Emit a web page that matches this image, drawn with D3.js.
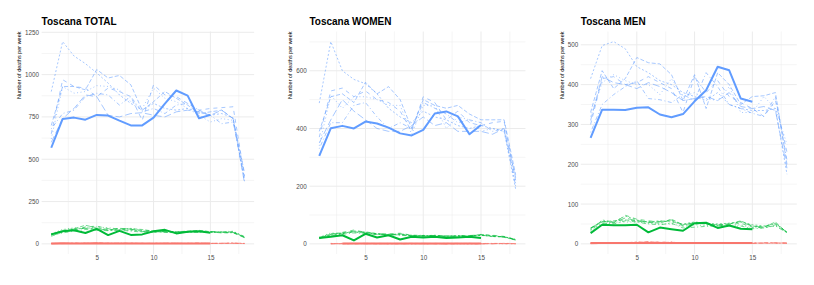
<!DOCTYPE html>
<html>
<head>
<meta charset="utf-8">
<script src="https://cdn.jsdelivr.net/npm/d3@7"></script>
<style>
  body { margin: 0; background: #fff; }
  text { font-family: "Liberation Sans", Arial, sans-serif; }
</style>
</head>
<body>
<svg id="chart" width="814" height="285"></svg>
<script>
'use strict';

// weeks of the year on the x axis
var weeks = [1, 2, 3, 4, 5, 6, 7, 8, 9, 10, 11, 12, 13, 14, 15, 16, 17, 18];
var xTicks = [5, 10, 15];

var panelTitles = ['Toscana TOTAL', 'Toscana WOMEN', 'Toscana MEN'];
var totalTicks = [0, 250, 500, 750, 1000, 1250];
var womenTicks = [0, 200, 400, 600];
var menTicks = [0, 100, 200, 300, 400, 500];

// ---- TOTAL ----
var totalBlueNow = [568, 738, 746, 734, 762, 758, 728, 700, 700, 746, 829, 906, 876, 742, 762];
var totalBluePrev = [
  [900, 1195, 1110, 1065, 1010, 950, 880, 830, 790, 830, 800, 790, 800, 780, 760, 770, 745, 370],
  [700, 930, 930, 910, 1030, 980, 995, 940, 790, 840, 900, 860, 820, 770, 780, 790, 740, 420],
  [650, 970, 930, 920, 870, 920, 900, 870, 730, 940, 880, 870, 830, 790, 800, 805, 810, 400],
  [620, 930, 890, 900, 935, 930, 910, 840, 800, 920, 860, 840, 800, 760, 720, 740, 730, 380],
  [680, 770, 790, 870, 890, 880, 820, 870, 780, 800, 770, 820, 830, 790, 760, 710, 720, 390],
  [600, 740, 800, 880, 870, 760, 750, 770, 775, 760, 750, 780, 790, 780, 760, 790, 740, 360]
];
var totalGreenNow = [56, 75, 80, 64, 89, 52, 77, 53, 56, 75, 83, 62, 72, 75, 65];
var totalGreenPrev = [
  [60, 75, 85, 95, 90, 80, 85, 80, 75, 70, 72, 70, 68, 72, 70, 68, 70, 45],
  [55, 80, 90, 110, 95, 85, 80, 90, 85, 75, 70, 72, 75, 80, 72, 70, 72, 40],
  [45, 70, 80, 100, 105, 90, 90, 85, 80, 78, 75, 72, 70, 75, 70, 65, 68, 38],
  [60, 85, 95, 90, 100, 95, 88, 92, 78, 70, 75, 68, 72, 70, 68, 72, 75, 42],
  [50, 65, 75, 85, 80, 78, 82, 75, 70, 72, 68, 65, 70, 68, 70, 66, 65, 40],
  [55, 72, 88, 92, 85, 82, 92, 88, 72, 70, 73, 68, 74, 76, 73, 70, 67, 37]
];
var totalRedNow = [3, 4, 3, 3, 4, 3, 3, 2, 3, 3, 2, 3, 3, 2, 3];
var totalRedPrev = [
  [2, 4, 3, 5, 3, 2, 4, 3, 2, 3, 4, 2, 3, 3, 2, 3, 6, 2],
  [3, 2, 4, 3, 6, 4, 3, 5, 3, 2, 3, 4, 2, 4, 3, 2, 4, 3],
  [1, 3, 2, 4, 3, 5, 2, 3, 4, 3, 2, 3, 4, 3, 2, 4, 3, 2],
  [4, 2, 3, 2, 4, 3, 6, 2, 3, 4, 3, 2, 3, 2, 4, 3, 2, 3],
  [2, 3, 5, 3, 2, 4, 3, 4, 2, 3, 3, 4, 3, 5, 3, 2, 5, 1],
  [0, 2, 3, 4, 3, 2, 4, 3, 3, 2, 4, 3, 2, 3, 3, 4, 3, 2]
];

// ---- WOMEN ----
var womenBlueNow = [305, 401, 409, 400, 424, 417, 403, 383, 376, 395, 452, 459, 442, 380, 412];
var womenBluePrev = [
  [488, 701, 600, 570, 555, 520, 470, 440, 420, 460, 440, 430, 410, 400, 410, 400, 390, 190],
  [390, 510, 520, 490, 560, 520, 545, 500, 400, 500, 480, 470, 480, 450, 430, 430, 430, 240],
  [370, 530, 540, 510, 530, 500, 490, 460, 390, 510, 490, 430, 460, 420, 410, 420, 425, 220],
  [340, 515, 470, 510, 510, 500, 480, 480, 380, 480, 480, 400, 440, 430, 390, 400, 390, 210],
  [330, 420, 420, 480, 490, 440, 400, 420, 400, 490, 470, 450, 420, 430, 420, 390, 400, 200],
  [350, 430, 500, 460, 430, 400, 390, 390, 410, 440, 410, 420, 390, 390, 390, 380, 400, 230]
];
var womenGreenNow = [20, 25, 30, 12, 35, 22, 30, 15, 25, 22, 25, 20, 22, 25, 20];
var womenGreenPrev = [
  [20, 30, 35, 45, 38, 35, 32, 35, 30, 28, 30, 25, 28, 27, 30, 25, 25, 15],
  [22, 35, 38, 40, 42, 35, 30, 32, 28, 27, 26, 28, 25, 26, 33, 28, 24, 14],
  [18, 32, 40, 48, 40, 33, 35, 37, 30, 29, 28, 27, 27, 28, 32, 30, 26, 15],
  [24, 38, 36, 42, 36, 34, 33, 31, 29, 30, 27, 26, 29, 26, 30, 27, 25, 16],
  [20, 28, 33, 38, 35, 32, 34, 30, 27, 26, 28, 25, 26, 27, 29, 28, 23, 13],
  [21, 33, 37, 44, 39, 36, 31, 34, 28, 28, 29, 27, 28, 29, 31, 26, 24, 14]
];
var womenRedNow = [null, null, 1, 1, 1, 1, 1, 1, 1, 1, 1, 1, 1, 1, 1];
var womenRedPrev = [
  [null, 1, 0, 1, 2, 1, 0, 1, 1, 0, 1, 2, 1, 0, 1, 1, 2, 0],
  [null, 0, 1, 2, 1, 0, 1, 1, 2, 1, 0, 1, 1, 2, 0, 1, 1, 1],
  [null, 1, 1, 0, 1, 2, 1, 0, 1, 1, 2, 0, 1, 1, 1, 0, 2, 1],
  [null, 2, 0, 1, 1, 1, 2, 1, 0, 1, 1, 1, 0, 1, 2, 1, 0, 1],
  [null, 1, 2, 1, 0, 1, 1, 2, 1, 0, 1, 1, 2, 1, 1, 2, 1, 0],
  [null, 0, 1, 1, 2, 1, 1, 0, 1, 2, 1, 0, 1, 1, 0, 1, 1, 1]
];

// ---- MEN ----
var menBlueNow = [266, 337, 337, 336, 342, 343, 325, 318, 326, 358, 386, 445, 436, 365, 357];
var menBluePrev = [
  [415, 498, 508, 490, 445, 430, 410, 400, 380, 370, 360, 380, 350, 340, 335, 335, 340, 175],
  [330, 435, 390, 415, 468, 455, 452, 425, 360, 425, 340, 430, 400, 350, 370, 372, 380, 200],
  [300, 415, 420, 400, 405, 420, 405, 390, 330, 420, 380, 410, 370, 355, 340, 320, 360, 230],
  [320, 405, 425, 410, 400, 400, 375, 415, 370, 380, 365, 360, 395, 330, 330, 370, 340, 250],
  [280, 350, 375, 395, 410, 365, 362, 355, 375, 360, 430, 395, 350, 340, 328, 320, 370, 210],
  [310, 420, 405, 400, 390, 405, 395, 380, 360, 365, 370, 360, 380, 345, 340, 345, 335, 190]
];
var menGreenNow = [27, 48, 47, 47, 48, 29, 41, 37, 33, 52, 53, 40, 46, 38, 37];
var menGreenPrev = [
  [35, 60, 55, 70, 60, 55, 58, 55, 50, 55, 52, 50, 52, 55, 48, 45, 50, 30],
  [40, 55, 58, 60, 58, 55, 52, 62, 48, 52, 50, 48, 50, 58, 45, 42, 55, 28],
  [38, 58, 52, 72, 62, 58, 55, 58, 45, 50, 52, 45, 48, 52, 42, 40, 48, 30],
  [32, 50, 55, 55, 55, 52, 50, 50, 44, 48, 46, 44, 46, 48, 40, 42, 45, 29],
  [36, 52, 50, 58, 55, 50, 48, 52, 40, 42, 44, 46, 44, 45, 38, 40, 46, 27],
  [40, 56, 54, 65, 58, 54, 56, 60, 47, 54, 50, 47, 50, 56, 44, 43, 52, 29]
];
var menRedNow = [2, 2, 2, 2, 2, 2, 2, 2, 2, 2, 2, 2, 2, 2, 2];
var menRedPrev = [
  [1, 3, 2, 3, 5, 4, 3, 4, 2, 1, 2, 3, 2, 1, 2, 2, 3, 1],
  [2, 1, 3, 2, 4, 6, 4, 3, 2, 3, 1, 2, 3, 2, 1, 3, 2, 2],
  [3, 2, 1, 3, 3, 4, 5, 4, 3, 2, 2, 1, 2, 3, 2, 1, 2, 3],
  [1, 2, 2, 1, 4, 3, 3, 5, 1, 2, 3, 2, 1, 2, 3, 2, 1, 2],
  [2, 3, 2, 2, 3, 5, 2, 3, 2, 1, 2, 2, 3, 1, 2, 3, 2, 1],
  [0, 1, 3, 2, 2, 3, 4, 2, 3, 2, 1, 3, 2, 2, 1, 2, 3, 2]
];

var panels = [
  { title: panelTitles[0], ticks: totalTicks,
    groups: [
      { color: '#619CFF', now: totalBlueNow, prev: totalBluePrev },
      { color: '#00BA38', now: totalGreenNow, prev: totalGreenPrev },
      { color: '#F8766D', now: totalRedNow, prev: totalRedPrev }
    ] },
  { title: panelTitles[1], ticks: womenTicks,
    groups: [
      { color: '#619CFF', now: womenBlueNow, prev: womenBluePrev },
      { color: '#00BA38', now: womenGreenNow, prev: womenGreenPrev },
      { color: '#F8766D', now: womenRedNow, prev: womenRedPrev }
    ] },
  { title: panelTitles[2], ticks: menTicks,
    groups: [
      { color: '#619CFF', now: menBlueNow, prev: menBluePrev },
      { color: '#00BA38', now: menGreenNow, prev: menGreenPrev },
      { color: '#F8766D', now: menRedNow, prev: menRedPrev }
    ] }
];

;(function () {
  // ggplot-ish linetypes for the earlier years
  var dashes = ['2,2', '4,2', '4,4', '1,2.5', '1,2.5,4,2.5', '7,3'];

  var svg = d3.select('#chart');
  var slotW = 814 / 3;
  var plotTop = 31.5, plotBottom = 254;
  var tickFont = '6.3px';

  panels.forEach(function(p, i) {
    var x0 = i * slotW;
    var g = svg.append('g');

    // width of the widest y label decides where the panel starts
    var labelW = 0;
    p.ticks.forEach(function(t) {
      var probe = g.append('text').style('font-size', tickFont).text(t);
      labelW = Math.max(labelW, probe.node().getComputedTextLength());
      probe.remove();
    });
    var left = x0 + 25 + labelW + 2.6;
    var right = x0 + slotW - 17.2;

    var x = d3.scaleLinear().domain([0.15, 18.85]).range([left, right]);

    var all = [];
    p.groups.forEach(function(gr) {
      all = all.concat(gr.now);
      gr.prev.forEach(function(s) { all = all.concat(s); });
    });
    all = all.filter(function(v) { return v != null; });
    var lo = d3.min(all), hi = d3.max(all);
    var pad = (hi - lo) * 0.05;
    var y = d3.scaleLinear().domain([lo - pad, hi + pad]).range([plotBottom, plotTop]);

    // grid
    var step = p.ticks[1] - p.ticks[0];
    var minorY = p.ticks.map(function(t) { return t + step / 2; })
      .filter(function(v) { return v < hi + pad; });
    var minorX = [2.5, 7.5, 12.5, 17.5];
    var grid = g.append('g');
    grid.selectAll('.ym').data(minorY).enter().append('line')
      .attr('x1', left).attr('x2', right)
      .attr('y1', function(d) { return y(d); }).attr('y2', function(d) { return y(d); })
      .attr('stroke', '#EBEBEB').attr('stroke-width', 0.5);
    grid.selectAll('.xm').data(minorX).enter().append('line')
      .attr('y1', plotTop).attr('y2', plotBottom)
      .attr('x1', function(d) { return x(d); }).attr('x2', function(d) { return x(d); })
      .attr('stroke', '#EBEBEB').attr('stroke-width', 0.5);
    grid.selectAll('.yM').data(p.ticks).enter().append('line')
      .attr('x1', left).attr('x2', right)
      .attr('y1', function(d) { return y(d); }).attr('y2', function(d) { return y(d); })
      .attr('stroke', '#EBEBEB').attr('stroke-width', 1);
    grid.selectAll('.xM').data(xTicks).enter().append('line')
      .attr('y1', plotTop).attr('y2', plotBottom)
      .attr('x1', function(d) { return x(d); }).attr('x2', function(d) { return x(d); })
      .attr('stroke', '#EBEBEB').attr('stroke-width', 1);

    // axes
    var ya = g.append('g').attr('transform', 'translate(' + left + ',0)')
      .call(d3.axisLeft(y).tickValues(p.ticks).tickFormat(d3.format('d'))
        .tickSize(0).tickPadding(2.6));
    var xa = g.append('g').attr('transform', 'translate(0,' + plotBottom + ')')
      .call(d3.axisBottom(x).tickValues(xTicks).tickFormat(d3.format('d'))
        .tickSize(0).tickPadding(1.5));
    [ya, xa].forEach(function(a) {
      a.select('.domain').remove();
      a.selectAll('text').style('font-size', tickFont).attr('fill', '#4D4D4D')
        .style('font-family', '"Liberation Sans", Arial, sans-serif');
    });

    // lines
    var line = d3.line()
      .defined(function(d) { return d != null; })
      .x(function(d, k) { return x(weeks[k]); })
      .y(function(d) { return y(d); });

    var lines = g.append('g').attr('fill', 'none');
    p.groups.forEach(function(gr) {
      gr.prev.forEach(function(s, k) {
        lines.append('path').attr('d', line(s))
          .attr('stroke', gr.color).attr('stroke-width', 0.7)
          .attr('stroke-opacity', 0.8)
          .attr('stroke-dasharray', dashes[k]);
      });
    });
    p.groups.forEach(function(gr) {
      lines.append('path').attr('d', line(gr.now))
        .attr('stroke', gr.color).attr('stroke-width', 2)
        .attr('stroke-linejoin', 'round');
    });

    // titles
    g.append('text').attr('x', left).attr('y', 25)
      .style('font-size', '10px').style('font-weight', 'bold')
      .attr('fill', '#000').text(p.title);
    g.append('text')
      .attr('transform', 'translate(' + (x0 + 21) + ',' + plotTop + ') rotate(-90)')
      .attr('text-anchor', 'end')
      .style('font-size', '5.5px').attr('fill', '#000')
      .text('Number of deaths per week');
  });
})();
</script>
</body>
</html>
